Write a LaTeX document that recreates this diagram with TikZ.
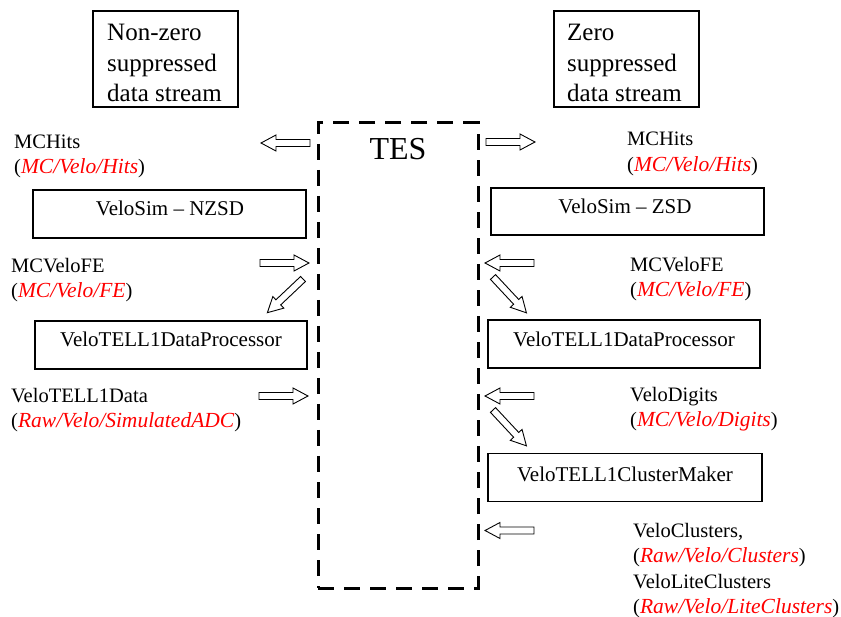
\documentclass[tikz,border=0pt]{standalone}
\usepackage{fontspec}
\setmainfont{Liberation Serif}
\definecolor{tred}{RGB}{255,0,0}
\newcommand{\rp}[1]{(\textcolor{tred}{\fontsize{21.5}{25}\selectfont\textit{#1}})}
\begin{document}
\begin{tikzpicture}[x=1pt,y=-1pt,
  box/.style={draw, line width=1.2pt, inner sep=0pt},
  lbl/.style={anchor=base west, inner sep=0pt, font=\fontsize{20.5}{25}\selectfont},
  ttl/.style={anchor=base west, inner sep=0pt, font=\fontsize{25}{30}\selectfont},
  btxt/.style={anchor=base, inner sep=0pt, font=\fontsize{21}{25}\selectfont},
  tesbox/.style={draw, line width=3pt, dash pattern=on 16pt off 10pt, inner sep=0pt},
  barrow/.pic={\draw[line width=0.9pt, fill=white, line join=miter]
     (0,-3.5) -- (34,-3.5) -- (34,-8) -- (49,0) -- (34,8) -- (34,3.5) -- (0,3.5) -- cycle;}
]
\useasboundingbox (0,0) rectangle (841,617);

% title boxes
\node[box, minimum width=145, minimum height=96] (nzbox) at (165.5,59) {};
\node[ttl] (nz1) at (107,41) {Non-zero};
\node[ttl] (nz2) at (107,72) {suppressed};
\node[ttl] (nz3) at (107,102) {data stream};
\node[box, minimum width=145, minimum height=96] (zbox) at (626.5,59) {};
\node[ttl] (z1) at (567,41) {Zero};
\node[ttl] (z2) at (567,72) {suppressed};
\node[ttl] (z3) at (567,102) {data stream};

% TES
\node[tesbox, minimum width=160, minimum height=465] (tes) at (398,355.5) {};
\node[anchor=base, inner sep=0pt, font=\fontsize{32}{36}\selectfont] (testxt) at (398,160) {TES};

% left column
\node[lbl] (lh1) at (14,149) {MCHits};
\node[lbl] (lh2) at (14,174) {\rp{MC/Velo/Hits}};
\node[box, minimum width=273, minimum height=48] (simn) at (169.5,214) {};
\node[btxt] (simnt) at (170,216) {VeloSim -- NZSD};
\node[lbl] (lf1) at (11,273) {MCVeloFE};
\node[lbl] (lf2) at (11,298) {\rp{MC/Velo/FE}};
\node[box, minimum width=272, minimum height=48] (dpn) at (171,345) {};
\node[btxt] (dpnt) at (171,347) {VeloTELL1DataProcessor};
\node[lbl] (ld1) at (11,403) {VeloTELL1Data};
\node[lbl] (ld2) at (11,428) {\rp{Raw/Velo/SimulatedADC}};

% right column
\node[lbl] (rh1) at (627,146) {MCHits};
\node[lbl] (rh2) at (627,172) {\rp{MC/Velo/Hits}};
\node[box, minimum width=273, minimum height=47] (simz) at (627.5,211.5) {};
\node[btxt] (simzt) at (625,214) {VeloSim -- ZSD};
\node[lbl] (rf1) at (630,272) {MCVeloFE};
\node[lbl] (rf2) at (630,297) {\rp{MC/Velo/FE}};
\node[box, minimum width=272, minimum height=48] (dpz) at (624,344) {};
\node[btxt] (dpzt) at (624,347) {VeloTELL1DataProcessor};
\node[lbl] (rd1) at (630,402) {VeloDigits};
\node[lbl] (rd2) at (630,427) {\rp{MC/Velo/Digits}};
\node[box, minimum width=274, minimum height=48] (clm) at (625,477.5) {};
\node[btxt] (clmt) at (625,482) {VeloTELL1ClusterMaker};
\node[lbl] (rc1) at (633,537) {VeloClusters,};
\node[lbl] (rc2) at (633,562) {\rp{Raw/Velo/Clusters}};
\node[lbl] (rc3) at (633,588) {VeloLiteClusters};
\node[lbl] (rc4) at (633,613) {\rp{Raw/Velo/LiteClusters}};

% block arrows
\pic[rotate=180] (a1) at (310,143) {barrow};
\pic (a2) at (486,142) {barrow};
\pic (a3) at (260,263) {barrow};
\pic[rotate=223.4] (a4) at (303,279) {barrow};
\pic (a5) at (259,396) {barrow};
\pic[rotate=180] (a6) at (534,263) {barrow};
\pic[rotate=-47] (a7) at (493,277) {barrow};
\pic[rotate=180] (a8) at (534,396) {barrow};
\pic[rotate=-47] (a9) at (493,410) {barrow};
\pic[rotate=180] (a10) at (534,530.5) {barrow};
\end{tikzpicture}
\end{document}
